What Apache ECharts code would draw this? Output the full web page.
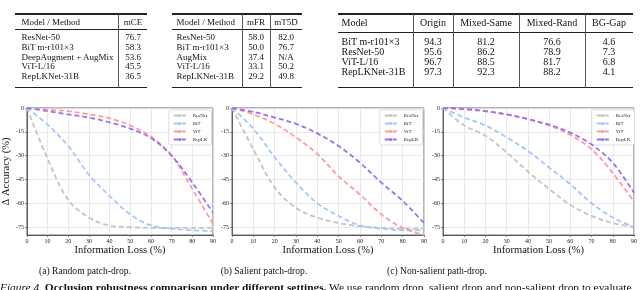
<!DOCTYPE html>
<html><head><meta charset="utf-8">
<script src="https://cdn.jsdelivr.net/npm/echarts@6/dist/echarts.min.js"></script>
<style>
body{margin:0;width:640px;height:290px;overflow:hidden;background:#fff;font-family:"Liberation Serif","DejaVu Serif",serif;color:#111;position:relative}
#chart{position:absolute;left:0;top:0;width:640px;height:290px}
.t{position:absolute;white-space:nowrap;line-height:1}
.r{position:absolute}
</style></head><body>
<div id="chart"></div>
<div id="tables"></div>
<div class="t" style="left:0;top:281.5px;font-size:11.4px;" id="cap"></div>
<script>
// ---------- table data ----------
const t1Models = ["ResNet-50","BiT m-r101×3","DeepAugment + AugMix","ViT-L/16","RepLKNet-31B"];
const t1mCE = ["76.7","58.3","53.6","45.5","36.5"];
const t2Models = ["ResNet-50","BiT m-r101×3","AugMix","ViT-L/16","RepLKNet-31B"];
const t2mFR = ["58.0","50.0","37.4","33.1","29.2"];
const t2mT5D = ["82.0","76.7","N/A","50.2","49.8"];
const t3Models = ["BiT m-r101×3","ResNet-50","ViT-L/16","RepLKNet-31B"];
const t3Origin = ["94.3","95.6","96.7","97.3"];
const t3MixedSame = ["81.2","86.2","88.5","92.3"];
const t3MixedRand = ["76.6","78.9","81.7","88.2"];
const t3BGGap = ["4.6","7.3","6.8","4.1"];

// ---------- chart data ----------
const xs = [0,10,20,30,40,50,60,70,80,90];
const yTicks = [0,-15,-30,-45,-60,-75];
const seriesNames = ["ResNet","BiT","ViT","RepLK"];
const randResNet = [0,-32,-58,-69,-74,-75,-75.5,-75.5,-75.5,-75.5];
const randBiT    = [0,-10.5,-24,-42,-55.5,-67,-74,-76,-77,-77.5];
const randViT    = [0,-1,-2,-4,-6.5,-11,-18,-30,-51,-73];
const randRepLK  = [0,-2,-4,-6,-9,-13,-19,-30,-47,-66];
const salResNet  = [0,-26,-50,-63,-69,-72.5,-74.5,-75.5,-76,-76];
const salBiT     = [0,-13,-31,-47,-60,-68,-74,-76,-77,-77];
const salViT     = [0,-4,-10,-18.5,-29,-43,-54.5,-67,-75.5,-80];
const salRepLK   = [0,-2.5,-6,-10,-16,-24,-34.5,-47,-58.5,-72.5];
const nsResNet   = [0,-11,-17.5,-28,-40,-51,-61,-68,-72.5,-75];
const nsBiT      = [0,-6,-11,-18.5,-27,-37.5,-48,-60,-69,-75];
const nsViT      = [0,-1,-2,-4,-7,-11,-17,-26,-41,-59];
const nsRepLK    = [0,-0.5,-2,-4,-7,-10.5,-15.5,-23,-34.5,-53.5];
const subCaptions = ["(a) Random patch-drop.","(b) Salient patch-drop.","(c) Non-salient path-drop."];

// ---------- tables (HTML) ----------
const host = document.getElementById('tables');
function rule(x1,x2,y,h,c){const d=document.createElement('div');d.className='r';d.style.cssText=`left:${x1}px;width:${x2-x1}px;top:${y-h/2}px;height:${h}px;background:${c||'#222'}`;host.appendChild(d);}
function vrule(x,y1,y2){const d=document.createElement('div');d.className='r';d.style.cssText=`left:${x-0.4}px;width:0.8px;top:${y1}px;height:${y2-y1}px;background:#555`;host.appendChild(d);}
function txt(s,x,y,fs,align){const d=document.createElement('div');d.className='t';d.textContent=s;d.style.fontSize=fs+'px';d.style.left=x+'px';d.style.top=y+'px';d.style.transform=align==='c'?'translate(-50%,-50%)':'translate(0,-50%)';host.appendChild(d);}
function table(cfg){
  rule(cfg.x1,cfg.x2,cfg.top,1.3);rule(cfg.x1,cfg.x2,cfg.mid,0.8);rule(cfg.x1,cfg.x2,cfg.bot,1.3);
  cfg.dividers.forEach(x=>vrule(x,cfg.top,cfg.bot));
  cfg.headers.forEach((h,i)=>txt(h,i===0?cfg.textLeft:cfg.centers[i-1],cfg.headY,cfg.fs,i===0?'l':'c'));
  cfg.cols[0].forEach((m,r)=>{
    const y=cfg.row0+cfg.rowH*r;
    txt(m,cfg.textLeft,y,cfg.fs,'l');
    for(let c=1;c<cfg.cols.length;c++) txt(cfg.cols[c][r],cfg.centers[c-1],y,cfg.fs,'c');
  });
}
table({x1:15,x2:147,top:14,mid:29,bot:87.5,dividers:[118],headers:["Model / Method","mCE"],textLeft:21.5,centers:[133],headY:22,row0:37.3,rowH:9.65,fs:9,cols:[t1Models,t1mCE]});
table({x1:172,x2:302,top:14,mid:29,bot:87.5,dividers:[242,270],headers:["Model / Method","mFR","mT5D"],textLeft:176.5,centers:[256,286],headY:22,row0:37.3,rowH:9.65,fs:9,cols:[t2Models,t2mFR,t2mT5D]});
table({x1:338,x2:633,top:14,mid:32,bot:87.5,dividers:[413,453,519,585],headers:["Model","Origin","Mixed-Same","Mixed-Rand","BG-Gap"],textLeft:341.5,centers:[433,486,552,609],headY:23.3,row0:41.6,rowH:10.1,fs:10,cols:[t3Models,t3Origin,t3MixedSame,t3MixedRand,t3BGGap]});
[85,264,437].forEach((cx,i)=>txt(subCaptions[i],cx,271,9.6,'c'));
document.getElementById('cap').innerHTML='<i>Figure 4.</i> <b>Occlusion robustness comparison under different settings.</b> We use random drop, salient drop and non-salient drop to evaluate';

// ---------- charts ----------
const colors = ['#c4c4c4','#a3c6ff','#ff9b9b','#9c6ff0'];
const panels = [
  {left:22,width:191,data:[randResNet,randBiT,randViT,randRepLK]},
  {left:232,width:192,data:[salResNet,salBiT,salViT,salRepLK]},
  {left:443,width:193,data:[nsResNet,nsBiT,nsViT,nsRepLK]}
];
const font = "Liberation Serif";
const grids=[],xAxes=[],yAxes=[],series=[],legends=[];
panels.forEach((p,i)=>{
  grids.push({left:p.left,width:p.width,top:108,height:127,show:true,borderColor:'#444',borderWidth:0.8,containLabel:false});
  xAxes.push({type:'value',gridIndex:i,min:0,max:90,interval:10,
    axisLine:{show:true,onZero:false,lineStyle:{color:'#444',width:0.8}},
    axisTick:{show:true,length:2,lineStyle:{color:'#444',width:0.6}},
    axisLabel:{fontSize:6,margin:3,color:'#222',fontFamily:font},
    splitLine:{show:true,lineStyle:{color:'#e2e2e2',width:0.8}},
    name:'Information Loss (%)',nameLocation:'middle',nameGap:9,
    nameTextStyle:{fontSize:10.5,color:'#111',fontFamily:font}});
  yAxes.push({type:'value',gridIndex:i,min:-80,max:0,
    axisLine:{show:true,lineStyle:{color:'#444',width:0.8}},
    axisTick:{show:true,length:2,customValues:yTicks,lineStyle:{color:'#444',width:0.6}},
    axisLabel:{fontSize:6,margin:3,color:'#222',fontFamily:font,customValues:yTicks},
    splitLine:{show:true,lineStyle:{color:'#e2e2e2',width:0.8}},
    name:i===0?'Δ Accuracy (%)':'',nameLocation:'middle',nameGap:7,nameRotate:90,
    nameTextStyle:{fontSize:10.5,color:'#111',fontFamily:font}});
  p.data.forEach((arr,k)=>{
    series.push({type:'line',name:seriesNames[k],xAxisIndex:i,yAxisIndex:i,
      data:xs.map((x,j)=>[x,arr[j]]),symbol:'none',smooth:0.35,
      lineStyle:{color:colors[k],width:1.8,type:[5,3]},itemStyle:{color:colors[k]},
      z:2+k});
  });
  legends.push({data:seriesNames,orient:'vertical',right:640-(p.left+p.width)+1.5,top:110,
    itemWidth:12,itemHeight:4,itemGap:3,padding:[3,4,3,4],
    backgroundColor:'#fff',borderColor:'#d6d6d6',borderWidth:0.8,borderRadius:2,
    textStyle:{fontSize:5,color:'#222',fontFamily:font,padding:[0,0,0,2]}});
});
const chart = echarts.init(document.getElementById('chart'),null,{renderer:'canvas'});
chart.setOption({animation:false,color:colors,grid:grids,xAxis:xAxes,yAxis:yAxes,series,legend:legends});
</script>
</body></html>
